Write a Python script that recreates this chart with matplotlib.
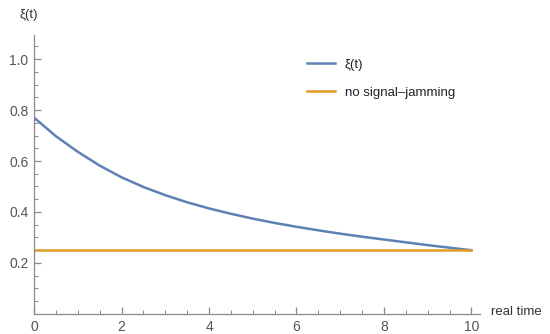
import matplotlib.pyplot as plt
from matplotlib.ticker import MultipleLocator

plt.rcParams['font.family'] = ['Liberation Sans', 'DejaVu Sans']

# curve
t = [0, 0.5, 1, 1.5, 2, 2.5, 3, 3.5, 4, 4.5, 5, 5.5, 6, 6.5, 7, 7.5, 8, 8.5, 9, 9.5, 10]
xi = [0.770, 0.697, 0.636, 0.582, 0.536, 0.498, 0.466, 0.438, 0.414, 0.393, 0.374,
      0.357, 0.342, 0.328, 0.315, 0.303, 0.292, 0.281, 0.270, 0.260, 0.250]
flat_t = [0, 10]
flat_val = [0.25, 0.25]

blue = "#5E81B5"
orange = "#E19C24"
axcol = "#8a8a8a"
txtcol = "#555555"

fig = plt.figure(figsize=(5.5, 3.34), dpi=100)
ax = fig.add_axes([0.062, 0.06, 0.811, 0.835])

ax.plot(t, xi, color=blue, lw=1.8, label="ξ(t)", solid_joinstyle="round")
ax.plot(flat_t, flat_val, color=orange, lw=1.8, label="no signal\u2013jamming")

ax.set_xlim(0, 10.2)
ax.set_ylim(0, 1.094)
ax.xaxis.set_minor_locator(MultipleLocator(0.5))
ax.yaxis.set_minor_locator(MultipleLocator(0.05))
ax.set_yticks([0.2, 0.4, 0.6, 0.8, 1.0])
ax.set_yticklabels(["0.2", "0.4", "0.6", "0.8", "1.0"])
ax.set_xticks([0, 2, 4, 6, 8, 10])

for s in ["top", "right"]:
    ax.spines[s].set_visible(False)
for s in ["left", "bottom"]:
    ax.spines[s].set_color(axcol)
    ax.spines[s].set_linewidth(0.9)

ax.tick_params(which="both", direction="in", color=axcol, labelcolor=txtcol, labelsize=10)
ax.tick_params(which="major", length=5, width=0.9, pad=4)
ax.tick_params(which="minor", length=3, width=0.7)

fig.text(0.036, 0.955, "ξ(t)", fontsize=9.5, color="#333333", ha="left", va="center")
fig.text(0.893, 0.065, "real time", fontsize=9.5, color="#333333", ha="left", va="center")

ax.legend(loc="upper left", bbox_to_anchor=(0.537, 0.86), bbox_transform=fig.transFigure,
          frameon=False, fontsize=9.5, handlelength=2.1, handletextpad=0.75,
          labelspacing=1.2, labelcolor="#222222")

fig.savefig("out.png", dpi=100)
